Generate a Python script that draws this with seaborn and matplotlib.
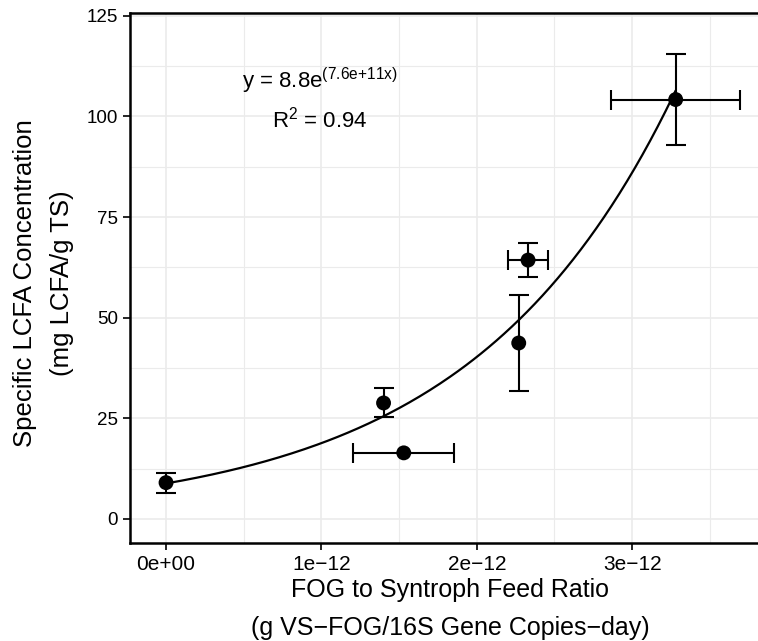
import numpy as np
import pandas as pd
import matplotlib
matplotlib.use("Agg")
import matplotlib.pyplot as plt
import seaborn as sns

# Data
ratio = [0.0, 1.40e-12, 1.53e-12, 2.27e-12, 2.33e-12, 3.28e-12]
ratio_err = [0.0, 0.0, 0.325e-12, 0.0, 0.13e-12, 0.415e-12]
lcfa = [9.0, 28.8, 16.4, 43.7, 64.3, 104.2]
lcfa_err = [2.5, 3.6, 0.0, 11.9, 4.3, 11.2]
fit_a = 8.8
fit_b = 7.6e11
x_ticks = [0, 1e-12, 2e-12, 3e-12]
x_tick_labels = ["0e+00", "1e\u221212", "2e\u221212", "3e\u221212"]
y_ticks = [0, 25, 50, 75, 100, 125]

sns.set_theme(style="white")
plt.rcParams['font.family'] = ['Liberation Sans', 'DejaVu Sans']
plt.rcParams['mathtext.default'] = 'regular'
plt.rcParams['text.color'] = 'black'

df = pd.DataFrame({"ratio": ratio, "lcfa": lcfa})
xs = np.linspace(min(ratio), max(ratio), 200)
fit_df = pd.DataFrame({"x": xs, "y": fit_a * np.exp(fit_b * xs)})

fig = plt.figure(figsize=(7.58, 6.41), dpi=100)
ax = fig.add_axes([130/758, 1 - 543/641, (758-130)/758, (543-13)/641])

ax.set_xlim(-0.232e-12, 3.81e-12)
ax.set_ylim(-6, 125.7)

# grid (major + minor)
for v in np.arange(-0.5e-12, 4e-12, 0.5e-12):
    major = abs(round(v / 1e-12) - v / 1e-12) < 0.01
    ax.axvline(v, color="#ebebeb", lw=1.2 if major else 0.8, zorder=0)
for v in np.arange(0, 126, 12.5):
    ax.axhline(v, color="#ebebeb", lw=0.8 if (v % 25) else 1.2, zorder=0)

sns.lineplot(data=fit_df, x="x", y="y", ax=ax, color="black", lw=1.6, zorder=2)
ax.errorbar(ratio, lcfa, yerr=[e if e > 0 else np.nan for e in lcfa_err],
            fmt="none", ecolor="black", elinewidth=1.5, capsize=7, capthick=1.5, zorder=3)
ax.errorbar(ratio, lcfa, xerr=[e if e > 0 else np.nan for e in ratio_err],
            fmt="none", ecolor="black", elinewidth=1.5, capsize=7, capthick=1.5, zorder=3)
sns.scatterplot(data=df, x="ratio", y="lcfa", ax=ax, color="black", s=115,
                edgecolor="none", zorder=4)

ax.text(0.99e-12, 107.0, r"y = 8.8e$^{(7.6e{+}11x)}$", fontsize=16,
        ha="center", va="baseline", color="black")
ax.text(0.99e-12, 97.3, r"R$^{2}$ = 0.94", fontsize=16, ha="center",
        va="baseline", color="black")

ax.set_xticks(x_ticks)
ax.set_xticklabels(x_tick_labels)
ax.set_yticks(y_ticks)
ax.tick_params(axis="both", direction="out", length=5, width=1.2, color="black",
               labelcolor="black", bottom=True, left=True)
ax.tick_params(axis="x", labelsize=15, pad=4)
ax.tick_params(axis="y", labelsize=13.5)
for s in ["left", "bottom", "top"]:
    ax.spines[s].set_visible(True)
    ax.spines[s].set_color("black")
    ax.spines[s].set_linewidth(1.8)
ax.spines["right"].set_visible(False)
ax.set_xlabel("")
ax.set_ylabel("")

fs = 18
fig.text(450/758, 1 - 597/641, "FOG to Syntroph Feed Ratio", fontsize=fs,
         ha="center", va="baseline")
fig.text(450/758, 1 - 635/641, "(g VS\u2212FOG/16S Gene Copies\u2212day)", fontsize=fs,
         ha="center", va="baseline")
fig.text(32/758, 1 - 283/641, "Specific LCFA Concentration", fontsize=18.5,
         ha="center", va="baseline", rotation=90, rotation_mode="anchor")
fig.text(69/758, 1 - 283/641, "(mg LCFA/g TS)", fontsize=18.5,
         ha="center", va="baseline", rotation=90, rotation_mode="anchor")

fig.savefig("out.png", dpi=100, facecolor="white")
